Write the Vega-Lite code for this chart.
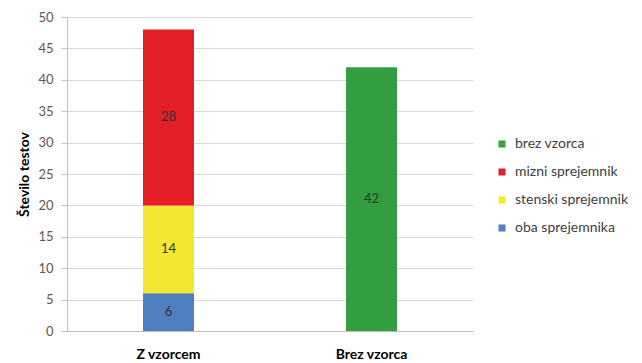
{
  "$schema": "https://vega.github.io/schema/vega-lite/v6.json",
  "width": 406,
  "height": 314,
  "autosize": {"type": "none"},
  "padding": {"left": 67, "top": 17, "right": 169, "bottom": 32},
  "background": "white",
  "config": {
    "font": "Lato",
    "view": {"stroke": null},
    "axisY": {
      "labelOverlap": false,
      "labelFontSize": 13,
      "labelColor": "#595959",
      "labelPadding": 8,
      "tickSize": 6,
      "tickColor": "#bfbfbf",
      "domainColor": "#bfbfbf",
      "gridColor": "#d9d9d9",
      "gridWidth": 1,
      "titleFontSize": 14,
      "titleFontWeight": "bold",
      "titleColor": "#000000",
      "titlePadding": 6
    }
  },
  "data": {
    "values": [
      {"group": "Z vzorcem", "series": "oba sprejemnika", "value": 6},
      {"group": "Z vzorcem", "series": "stenski sprejemnik", "value": 14},
      {"group": "Z vzorcem", "series": "mizni sprejemnik", "value": 28},
      {"group": "Brez vzorca", "series": "brez vzorca", "value": 42}
    ]
  },
  "transform": [
    {"calculate": "indexof(['oba sprejemnika','stenski sprejemnik','mizni sprejemnik','brez vzorca'], datum.series)", "as": "rank"},
    {"stack": "value", "groupby": ["group"], "sort": [{"field": "rank", "order": "ascending"}], "as": ["v0", "v1"]},
    {"calculate": "(datum.v0 + datum.v1) / 2", "as": "mid"}
  ],
  "encoding": {
    "x": {
      "field": "group",
      "type": "nominal",
      "sort": ["Z vzorcem", "Brez vzorca"],
      "scale": {"paddingInner": 0, "paddingOuter": 0},
      "axis": {
        "title": null,
        "labelAngle": 0,
        "labelFontSize": 14,
        "labelFontWeight": "bold",
        "labelColor": "#000000",
        "labelPadding": 16,
        "ticks": false,
        "domainColor": "#bfbfbf",
        "grid": false
      }
    }
  },
  "layer": [
    {
      "mark": {"type": "bar", "size": 51},
      "encoding": {
        "y": {
          "field": "v0",
          "type": "quantitative",
          "scale": {"domain": [0, 50], "nice": false},
          "axis": {
            "title": "Število testov",
            "values": [0, 5, 10, 15, 20, 25, 30, 35, 40, 45, 50]
          }
        },
        "y2": {"field": "v1"},
        "color": {
          "field": "series",
          "type": "nominal",
          "scale": {
            "domain": ["brez vzorca", "mizni sprejemnik", "stenski sprejemnik", "oba sprejemnika"],
            "range": ["#339e3f", "#e31e26", "#f5e632", "#4f7fbf"]
          },
          "legend": {
            "title": null,
            "orient": "none",
            "legendX": 428,
            "legendY": 120,
            "padding": 0,
            "symbolType": "square",
            "symbolSize": 49,
            "symbolStrokeWidth": 0,
            "labelFontSize": 14,
            "labelColor": "#404040",
            "labelOffset": 6,
            "rowPadding": 14
          }
        }
      }
    },
    {
      "mark": {"type": "text", "fontSize": 13, "color": "#333333"},
      "encoding": {
        "y": {
          "field": "mid",
          "type": "quantitative",
          "axis": {
            "title": "Število testov",
            "values": [0, 5, 10, 15, 20, 25, 30, 35, 40, 45, 50]
          }
        },
        "text": {"field": "value", "type": "quantitative"}
      }
    }
  ]
}
